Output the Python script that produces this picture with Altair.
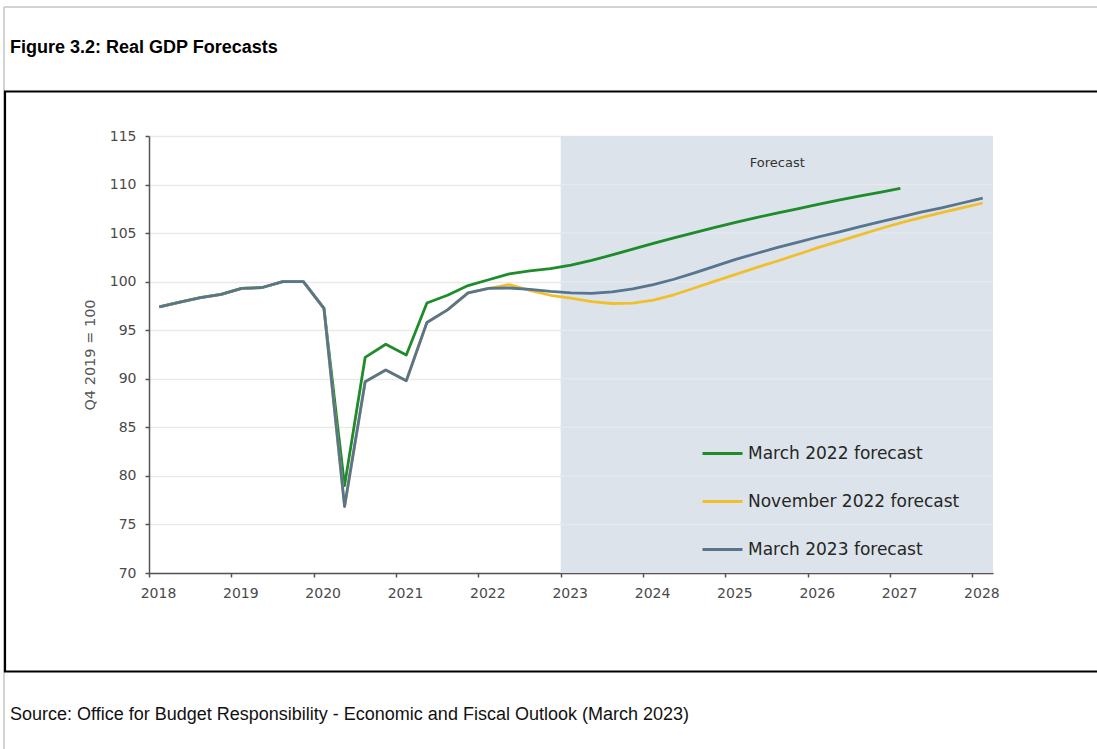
import altair as alt
import pandas as pd

# ---------------- data ----------------
quarters = [f"{y} Q{q}" for y in range(2018, 2029) for q in (1, 2, 3, 4)][:41]

march_2022 = [97.4, 97.9, 98.35, 98.7,
              99.3, 99.4, 100.0, 100.0,
              97.25, 79.0, 92.2, 93.55,
              92.45, 97.8, 98.6, 99.6,
              100.2, 100.8, 101.1, 101.35,
              101.7, 102.2, 102.75, 103.35,
              103.95, 104.5, 105.05, 105.6,
              106.1, 106.6, 107.05, 107.5,
              107.95, 108.4, 108.8, 109.2,
              109.6]

november_2022 = [97.4, 97.9, 98.35, 98.7,
                 99.3, 99.4, 100.0, 100.0,
                 97.25, 76.85, 89.7, 90.9,
                 89.8, 95.8, 97.1, 98.85,
                 99.3, 99.7, 99.1, 98.6,
                 98.3, 97.95, 97.75, 97.8,
                 98.1, 98.65, 99.35, 100.05,
                 100.75, 101.45, 102.1, 102.8,
                 103.5, 104.15, 104.8, 105.45,
                 106.05, 106.6, 107.1, 107.6,
                 108.1]

march_2023 = [97.4, 97.9, 98.35, 98.7,
              99.3, 99.4, 100.0, 100.0,
              97.25, 76.85, 89.7, 90.9,
              89.8, 95.8, 97.1, 98.85,
              99.3, 99.35, 99.2, 99.0,
              98.85, 98.8, 98.95, 99.25,
              99.7, 100.25, 100.9, 101.6,
              102.3, 102.9, 103.5, 104.05,
              104.6, 105.1, 105.65, 106.15,
              106.65, 107.15, 107.6, 108.1,
              108.6]

series_names = ["March 2022 forecast", "November 2022 forecast", "March 2023 forecast"]
series_colors = ["#1e8c2a", "#f2bf2c", "#587590"]

year_ticks = list(range(2018, 2029))
y_ticks = list(range(70, 116, 5))

forecast_start = 2023
forecast_end = 2028.25
forecast_label = "Forecast"
forecast_label_x = 2025.63
forecast_label_y = 112.2

title_text = "Figure 3.2: Real GDP Forecasts"
source_text = "Source: Office for Budget Responsibility - Economic and Fiscal Outlook (March 2023)"


def qpos(label):
    return int(label[:4]) + (int(label[-1]) - 0.5) / 4


rows = []
for name, vals in zip(series_names, [march_2022, november_2022, march_2023]):
    for lab, v in zip(quarters, vals):
        rows.append({"quarter": lab, "t": qpos(lab), "value": v, "series": name})
df = pd.DataFrame(rows)

# ---------------- layout ----------------
PL, PT, W, H = 149, 136, 844, 437
TOTAL_W, TOTAL_H = 1097, 749

xscale = alt.Scale(domain=[2018, 2028.25], nice=False, zero=False)
yscale = alt.Scale(domain=[70, 115], nice=False, zero=False)

x_axis = alt.Axis(values=year_ticks, format="d", title="", grid=False,
                  domainColor="#555555", domainWidth=1.5, tickColor="#555555",
                  tickSize=4, tickWidth=1.5, labelFont="DejaVu Sans", labelFontSize=14,
                  labelColor="#4a4a4a", labelPadding=9, labelOffset=9,
                  labelFlush=False, labelOverlap=False)
y_axis = alt.Axis(values=y_ticks, title="Q4 2019 = 100", grid=True,
                  gridColor="#e9e9e9", gridWidth=1.5,
                  domainColor="#555555", domainWidth=1.5, tickColor="#555555",
                  tickSize=4, tickWidth=1.5, labelFont="DejaVu Sans", labelFontSize=14,
                  labelColor="#4a4a4a", labelPadding=9,
                  titleFont="DejaVu Sans", titleFontSize=14.5, titleColor="#555555",
                  titleFontWeight="normal", titlePadding=12)

shade_df = pd.DataFrame({"x0": [forecast_start], "x1": [forecast_end],
                         "y0": [y_ticks[0]], "y1": [y_ticks[-1]]})
shade = alt.Chart(shade_df).mark_rect(color="#dce3ea").encode(
    x=alt.X("x0:Q", scale=xscale, axis=x_axis),
    x2="x1:Q",
    y=alt.Y("y0:Q", scale=yscale, axis=y_axis),
    y2="y1:Q",
)

grid_df = pd.DataFrame({"y": y_ticks[1:-1], "x0": forecast_start, "x1": forecast_end})
shade_grid = alt.Chart(grid_df).mark_rule(color="#e5eaf0", strokeWidth=1.5).encode(
    x=alt.X("x0:Q", scale=xscale, axis=x_axis),
    x2="x1:Q",
    y=alt.Y("y:Q", scale=yscale, axis=y_axis),
)

color_enc = alt.Color("series:N", title="",
                      scale=alt.Scale(domain=series_names, range=series_colors),
                      legend=alt.Legend(orient="none", legendX=552, legendY=296,
                                        symbolType="stroke", symbolSize=1600,
                                        symbolStrokeWidth=3, labelFont="DejaVu Sans",
                                        labelFontSize=17, labelColor="#262626",
                                        labelOffset=4, rowPadding=18, padding=0,
                                        labelLimit=400))

lines = []
for name in series_names:
    lines.append(
        alt.Chart(df).transform_filter(alt.datum.series == name)
        .mark_line(strokeWidth=2.8, strokeJoin="round")
        .encode(
            x=alt.X("t:Q", scale=xscale, axis=x_axis),
            y=alt.Y("value:Q", scale=yscale, axis=y_axis),
            color=color_enc,
            order="t:Q",
        )
    )

label_df = pd.DataFrame({"x": [forecast_label_x], "y": [forecast_label_y], "text": [forecast_label]})
flabel = alt.Chart(label_df).mark_text(font="DejaVu Sans", fontSize=13, color="#333333").encode(
    x=alt.X("x:Q", scale=xscale, axis=x_axis),
    y=alt.Y("y:Q", scale=yscale, axis=y_axis),
    text="text:N",
)

one = alt.Data(values=[{"a": 1}])


def prule(x1, x2, y1, y2, color, width):
    return alt.Chart(one).mark_rule(color=color, strokeWidth=width).encode(
        x=alt.value(x1 - PL), x2=alt.value(x2 - PL),
        y=alt.value(y1 - PT), y2=alt.value(y2 - PT))


frame = [
    prule(4, TOTAL_W, 7, 7, "#c4c4c4", 1.5),
    prule(4, 4, 7, TOTAL_H, "#c4c4c4", 1.5),
    prule(4, TOTAL_W, 91.5, 91.5, "#000000", 2.2),
    prule(5, 5, 91, 672, "#000000", 2.2),
    prule(4, TOTAL_W, 671.5, 671.5, "#000000", 2.2),
]

title = alt.Chart(one).mark_text(text=title_text, align="left", baseline="middle",
                                 font="Liberation Sans", fontSize=18, fontWeight="bold",
                                 color="#000000").encode(
    x=alt.value(10 - PL), y=alt.value(48 - PT))
source = alt.Chart(one).mark_text(text=source_text, align="left", baseline="middle",
                                  font="Liberation Sans", fontSize=18,
                                  color="#111111").encode(
    x=alt.value(10 - PL), y=alt.value(715 - PT))

chart = alt.layer(shade, shade_grid, *lines, flabel, *frame, title, source).properties(
    width=W, height=H,
    padding={"left": PL, "top": PT, "right": TOTAL_W - PL - W, "bottom": TOTAL_H - PT - H},
    autosize=alt.AutoSizeParams(type="none"),
    background="#ffffff",
).configure_view(stroke=None)

chart.save("out.html", embed_options={"renderer": "svg", "actions": False})
